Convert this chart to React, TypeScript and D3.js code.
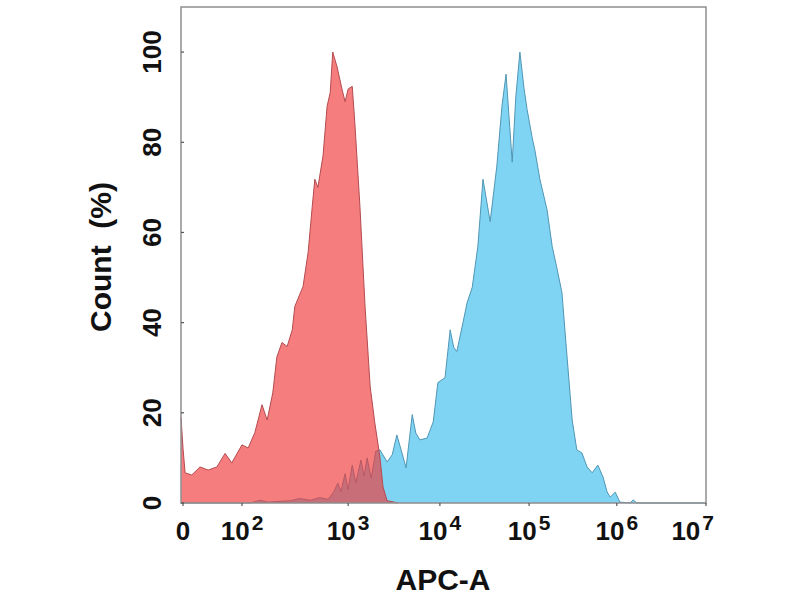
import { useRef, useEffect } from 'react';
import * as d3 from 'd3';

// Display axis is in instrument channels (biexponential display, 0..1024)
const Y_TICKS = [0, 20, 40, 60, 80, 100];
const X_TICK_CHANNELS = [4, 119, 326, 505, 679, 850, 1024];
const X_TICK_BASES = ['0', '10', '10', '10', '10', '10', '10'];
const X_TICK_EXPONENTS = ['', '2', '3', '4', '5', '6', '7'];

// Isotype control (red)
const RED_CHANNEL = [
  0, 4, 8, 21, 37, 53, 70, 86, 99, 119, 131, 144, 158, 168, 179, 187, 197, 207, 217, 222,
  238, 248, 256, 261, 267, 277, 285, 291, 296, 304, 314, 320, 326, 334, 339, 349, 359, 369,
  378, 388, 394, 402, 412, 423,
];
const RED_COUNT = [
  19, 12, 6.7, 6.2, 8, 7.3, 8, 11, 8.9, 12.9, 12.2, 15.6, 21.8, 18.4, 24.4, 32.4, 35.6, 34.7,
  38.4, 43.6, 48, 55.6, 65.8, 71.8, 70, 77, 88, 91, 100, 96.9, 91.8, 89, 91.8, 92.4, 84.4,
  65.8, 43.6, 25.8, 17.8, 10.2, 3.6, 0.5, 0.3, 0,
];

// Stained sample (blue)
const BLUE_CHANNEL = [
  0, 135, 154, 170, 213, 232, 252, 271, 287, 298, 306, 312, 320, 326, 334, 341, 351, 357, 363,
  371, 380, 388, 402, 412, 421, 431, 439, 451, 458, 466, 480, 492, 501, 515, 525, 532, 538,
  550, 558, 568, 579, 589, 603, 616, 626, 634, 646, 653, 661, 669, 675, 685, 690, 700, 714,
  724, 733, 743, 753, 763, 772, 782, 792, 802, 813, 823, 831, 837, 847, 856, 876, 882, 889,
  1024,
];
const BLUE_COUNT = [
  0, 0, 0.6, 0.2, 0.5, 1, 0.6, 1.2, 0.8, 2.5, 4.4, 2.5, 6.5, 3, 8.4, 4.5, 9.5, 6, 10, 5.5,
  11.5, 11.8, 9.1, 10.7, 15.1, 11.1, 7.8, 19.6, 15.5, 14, 14.4, 18, 26.7, 27.8, 38.4, 34.5,
  33.6, 40, 44.4, 47.8, 56.9, 71.8, 62.4, 74.7, 88, 95.1, 75.6, 90, 100, 92, 87.3, 81, 78.4,
  71.8, 65, 56.9, 52.2, 46.7, 32.4, 18.4, 11.8, 11.1, 8, 6.7, 8.4, 5.8, 2.5, 1.3, 2.4, 0.2,
  0, 0.7, 0, 0,
];

export default function App() {
  const svgRef = useRef<SVGSVGElement>(null);

  const width = 800;
  const height = 600;

  useEffect(() => {
    if (!svgRef.current) return;
    const svg = d3.select(svgRef.current);
    svg.selectAll('*').remove();

    const margin = { top: 7, right: 94, bottom: 97, left: 181 };
    const innerWidth = width - margin.left - margin.right;
    const innerHeight = height - margin.top - margin.bottom;
    const font = '"Liberation Sans", Arial, sans-serif';

    const g = svg.append('g').attr('transform', `translate(${margin.left},${margin.top})`);

    const xScale = d3.scaleLinear().domain([0, 1024]).range([0, innerWidth]);
    const yScale = d3.scaleLinear().domain([0, 110]).range([innerHeight, 0]);

    const red = RED_CHANNEL.map((c, i) => [c, RED_COUNT[i]] as [number, number]);
    const blue = BLUE_CHANNEL.map((c, i) => [c, BLUE_COUNT[i]] as [number, number]);

    const area = d3.area<[number, number]>()
      .x(d => xScale(d[0]))
      .y0(innerHeight)
      .y1(d => yScale(d[1]));
    const line = d3.line<[number, number]>()
      .x(d => xScale(d[0]))
      .y(d => yScale(d[1]));

    // Blue first, red translucent on top so the overlap darkens
    g.append('path').datum(blue)
      .attr('fill', 'rgb(0,170,232)')
      .attr('fill-opacity', 0.5)
      .attr('d', area);
    g.append('path').datum(blue)
      .attr('fill', 'none')
      .attr('stroke', 'rgb(80,150,180)')
      .attr('stroke-width', 1)
      .attr('d', line);

    g.append('path').datum(red)
      .attr('fill', 'rgb(240,55,55)')
      .attr('fill-opacity', 0.65)
      .attr('d', area);
    g.append('path').datum(red)
      .attr('fill', 'none')
      .attr('stroke', 'rgb(180,75,80)')
      .attr('stroke-width', 1)
      .attr('d', line);

    // Frame
    g.append('rect')
      .attr('x', 0).attr('y', 0)
      .attr('width', innerWidth).attr('height', innerHeight)
      .attr('fill', 'none')
      .attr('stroke', '#8e8e8e')
      .attr('stroke-width', 1.5);

    // Y ticks + labels
    Y_TICKS.forEach(t => {
      g.append('line')
        .attr('x1', 0).attr('x2', 3)
        .attr('y1', yScale(t)).attr('y2', yScale(t))
        .attr('stroke', '#555').attr('stroke-width', 1.2);
      g.append('text')
        .attr('transform', `translate(-20,${yScale(t)}) rotate(-90)`)
        .attr('text-anchor', 'middle')
        .attr('font-family', font)
        .attr('font-weight', 'bold')
        .attr('font-size', 26)
        .attr('fill', '#111')
        .text(String(t));
    });

    // X ticks + labels
    X_TICK_CHANNELS.forEach((c, i) => {
      const x = xScale(c);
      g.append('line')
        .attr('x1', x).attr('x2', x)
        .attr('y1', innerHeight).attr('y2', innerHeight + 3)
        .attr('stroke', '#555').attr('stroke-width', 1.2);
      const last = i === X_TICK_CHANNELS.length - 1;
      const txt = g.append('text')
        .attr('x', last ? x + 8 : x)
        .attr('y', innerHeight + 37)
        .attr('text-anchor', last ? 'end' : 'middle')
        .attr('font-family', font)
        .attr('font-weight', 'bold')
        .attr('font-size', 26)
        .attr('fill', '#111');
      txt.append('tspan').text(X_TICK_BASES[i]);
      if (X_TICK_EXPONENTS[i]) {
        txt.append('tspan')
          .attr('font-size', 21)
          .attr('dx', 2)
          .attr('dy', -10)
          .text(X_TICK_EXPONENTS[i]);
      }
    });

    // Axis titles
    svg.append('text')
      .attr('transform', `translate(111,257) rotate(-90)`)
      .attr('text-anchor', 'middle')
      .attr('font-family', font)
      .attr('font-weight', 'bold')
      .attr('font-size', 30)
      .attr('fill', '#111')
      .text('Count\u00a0\u00a0(%)');

    svg.append('text')
      .attr('x', 443)
      .attr('y', 590)
      .attr('text-anchor', 'middle')
      .attr('font-family', font)
      .attr('font-weight', 'bold')
      .attr('font-size', 30)
      .attr('fill', '#111')
      .text('APC-A');
  }, []);

  return (
    <svg
      ref={svgRef}
      width={width}
      height={height}
      style={{ position: 'absolute', left: 0, top: 0, background: '#fff' }}
    />
  );
}
